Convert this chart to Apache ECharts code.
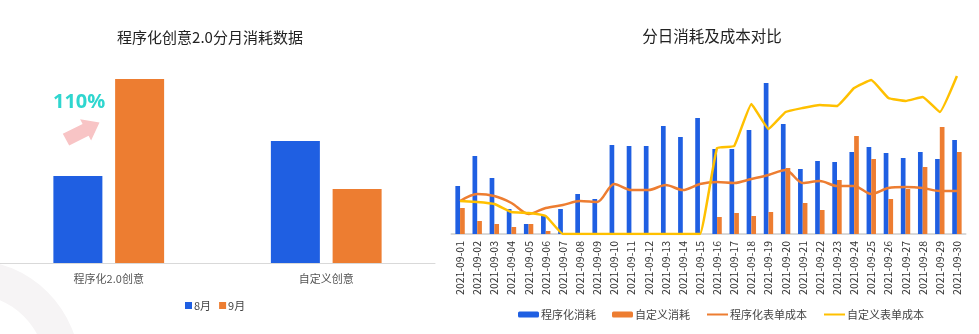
<!DOCTYPE html>
<html>
<head>
<meta charset="utf-8">
<script src="https://cdn.jsdelivr.net/npm/echarts@6/dist/echarts.min.js"></script>
<style>
  html, body { margin: 0; padding: 0; background: #ffffff; }
  #chart { width: 979px; height: 334px; }
</style>
</head>
<body>
<div id="chart"></div>
<script>
// Monthly spend for the two creative types
var monthCategories = ['程序化2.0创意', '自定义创意'];
var monthNames = ['8月', '9月'];
var augSpend = [87, 122];
var sepSpend = [184, 74];
var growthLabel = '110%';

// Daily spend and cost per form, September 2021
var days = [
  '2021-09-01','2021-09-02','2021-09-03','2021-09-04','2021-09-05','2021-09-06',
  '2021-09-07','2021-09-08','2021-09-09','2021-09-10','2021-09-11','2021-09-12',
  '2021-09-13','2021-09-14','2021-09-15','2021-09-16','2021-09-17','2021-09-18',
  '2021-09-19','2021-09-20','2021-09-21','2021-09-22','2021-09-23','2021-09-24',
  '2021-09-25','2021-09-26','2021-09-27','2021-09-28','2021-09-29','2021-09-30'
];
var seriesNames = ['程序化消耗', '自定义消耗', '程序化表单成本', '自定义表单成本'];
var programmaticSpend = [48, 78, 56, 25, 10, 19, 25, 40, 35, 89, 88, 88, 108, 97, 116,
                         85, 85, 104, 151, 110, 65, 73, 72, 82, 87, 81, 76, 82, 75, 94];
var customSpend = [26, 13, 10, 7, 10, 3, 0, 0, 0, 0, 0, 0, 0, 0, 0,
                   17, 21, 18, 22, 66, 31, 24, 54, 98, 75, 35, 45, 67, 107, 82];
var programmaticCost = [33, 40, 38, 31, 20, 26, 29, 33, 32, 50, 44, 44, 49, 44, 50,
                        52, 51, 55, 59, 64, 51, 53, 48, 48, 40, 46, 47, 46, 43, 43];
var customCost = [33, 32, 30, 22, 21, 18, 0, 0, 0, 0, 0, 0, 0, 0, 0,
                  86, 88, 130, 105, 122, 126, 129, 128, 146, 154, 136, 133, 137, 122, 158];

var BLUE = '#1f5fe2';
var ORANGE = '#ed7d31';
var YELLOW = '#ffc000';
var CJK = "'Microsoft YaHei', 'Noto Sans CJK SC', sans-serif";

var chart = echarts.init(document.getElementById('chart'), null, { renderer: 'canvas' });

chart.setOption({
  backgroundColor: '#ffffff',
  animation: false,
  textStyle: { fontFamily: CJK },
  title: [
    {
      text: '程序化创意2.0分月消耗数据',
      left: 205, top: 25, textAlign: 'center',
      textStyle: { fontSize: 15, fontWeight: 'normal', color: '#222', fontFamily: CJK }
    },
    {
      text: '分日消耗及成本对比',
      left: 707, top: 23, textAlign: 'center',
      textStyle: { fontSize: 15.5, fontWeight: 'normal', color: '#222', fontFamily: CJK }
    }
  ],
  legend: [
    {
      data: monthNames,
      left: 180, top: 295,
      icon: 'rect', itemWidth: 7, itemHeight: 7, itemGap: 8,
      textStyle: { fontSize: 11, color: '#444', fontFamily: CJK, padding: [0, 0, 0, -3] }
    },
    {
      data: [
        { name: seriesNames[0] },
        { name: seriesNames[1] },
        { name: seriesNames[2], itemStyle: { opacity: 0 } },
        { name: seriesNames[3], itemStyle: { opacity: 0 } }
      ],
      left: 513, top: 304,
      itemWidth: 21, itemHeight: 6, itemGap: 16,
      textStyle: { fontSize: 11, color: '#444', fontFamily: CJK, padding: [0, 0, 0, -3] }
    }
  ],
  grid: [
    { left: 0, top: 63, width: 435, height: 200 },
    { left: 451.5, top: 74, width: 514, height: 160 }
  ],
  xAxis: [
    {
      type: 'category', gridIndex: 0, data: monthCategories,
      axisLine: { lineStyle: { color: '#d9d9d9', width: 1 } },
      axisTick: { show: false },
      axisLabel: { color: '#555', fontSize: 11, margin: 10, fontFamily: CJK }
    },
    {
      type: 'category', gridIndex: 1, data: days,
      axisLine: { lineStyle: { color: '#d9d9d9', width: 2 } },
      axisTick: { show: false },
      axisLabel: { color: '#333', fontSize: 10.5, rotate: 90, interval: 0, margin: 7, fontFamily: CJK }
    }
  ],
  yAxis: [
    { type: 'value', gridIndex: 0, min: 0, max: 200, show: false },
    { type: 'value', gridIndex: 1, min: 0, max: 160, show: false },
    { type: 'value', gridIndex: 1, min: 0, max: 160, show: false }
  ],
  series: [
    {
      name: '8月', type: 'bar', xAxisIndex: 0, yAxisIndex: 0,
      data: augSpend, barWidth: 49, barGap: '26%',
      itemStyle: { color: BLUE }
    },
    {
      name: '9月', type: 'bar', xAxisIndex: 0, yAxisIndex: 0,
      data: sepSpend, barWidth: 49,
      itemStyle: { color: ORANGE }
    },
    {
      name: seriesNames[0], type: 'bar', xAxisIndex: 1, yAxisIndex: 1,
      data: programmaticSpend, barWidth: 4.7, barGap: '0%',
      itemStyle: { color: BLUE }
    },
    {
      name: seriesNames[1], type: 'bar', xAxisIndex: 1, yAxisIndex: 1,
      data: customSpend, barWidth: 4.7,
      itemStyle: { color: ORANGE }
    },
    {
      name: seriesNames[2], type: 'line', xAxisIndex: 1, yAxisIndex: 2,
      data: programmaticCost, symbol: 'none', smooth: 0.3,
      lineStyle: { color: ORANGE, width: 2.5 },
      itemStyle: { color: ORANGE },
      z: 3
    },
    {
      name: seriesNames[3], type: 'line', xAxisIndex: 1, yAxisIndex: 2,
      data: customCost, symbol: 'none', smooth: 0.1,
      lineStyle: { color: YELLOW, width: 2.5 },
      itemStyle: { color: YELLOW },
      z: 4
    }
  ],
  graphic: [
    {
      // soft decorative ring in the lower-left corner
      type: 'ring', z: -10, silent: true,
      shape: { cx: -30, cy: 370, r: 110, r0: 76 },
      style: { fill: '#f6f4f5' }
    },
    {
      // growth arrow between the two programmatic bars
      type: 'polygon', z: 10, silent: true,
      shape: { points: [[62.8, 133.8], [82.6, 124.1], [80.1, 119.2], [99.5, 122.5],
                        [91.1, 140.6], [88.6, 135.7], [69.2, 145.5]] },
      style: { fill: '#f8c4c5' }
    },
    {
      type: 'text', z: 10, silent: true,
      left: 53, top: 92,
      style: {
        text: growthLabel, fill: '#2fd6cf',
        font: "bold 20px 'Open Sans', 'Noto Sans', sans-serif"
      }
    }
  ]
});
</script>
</body>
</html>
